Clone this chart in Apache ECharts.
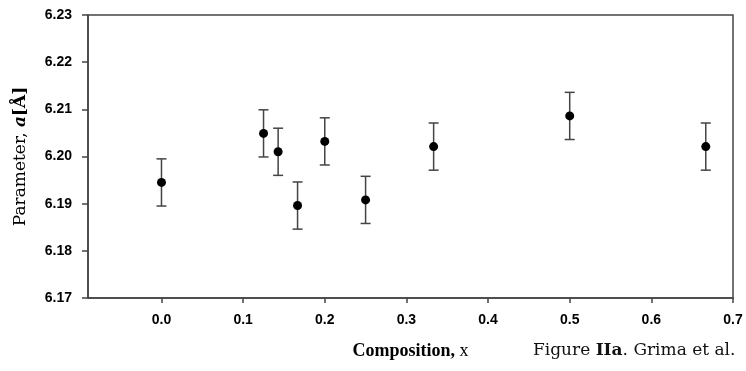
<!DOCTYPE html>
<html>
<head>
<meta charset="utf-8">
<script src="https://cdn.jsdelivr.net/npm/echarts@6/dist/echarts.min.js"></script>
<style>
  html, body { margin: 0; padding: 0; background: #fff; }
  #chart { width: 746px; height: 371px; }
</style>
</head>
<body>
<div id="chart"></div>
<script>
// composition x, lattice parameter a (Å), error bar half-width
var composition = [0.0, 0.125, 1 / 7, 1 / 6, 0.2, 0.25, 1 / 3, 0.5, 2 / 3];
var parameterA = [6.1945, 6.2049, 6.2010, 6.1896, 6.2032, 6.1908, 6.2021, 6.2086, 6.2021];
var errorA = [0.005, 0.005, 0.005, 0.005, 0.005, 0.005, 0.005, 0.005, 0.005];
var xTicks = [0.0, 0.1, 0.2, 0.3, 0.4, 0.5, 0.6, 0.7];

var points = composition.map(function (x, i) { return [x, parameterA[i]]; });
var bars = composition.map(function (x, i) {
  return [x, parameterA[i] - errorA[i], parameterA[i] + errorA[i]];
});

var chart = echarts.init(document.getElementById('chart'));
var axisColor = '#444';
var labelFont = {
  color: '#000',
  fontFamily: 'Liberation Sans',
  fontWeight: 'bold',
  fontSize: 14
};

chart.setOption({
  animation: false,
  backgroundColor: '#fff',
  grid: {
    left: 88,
    right: 13,
    top: 15,
    bottom: 73,
    show: true,
    borderColor: axisColor,
    borderWidth: 1.5
  },
  title: {
    text: '{n|Figure }{b|IIa}{n|. Grima et al.}',
    left: 533,
    top: 342,
    padding: 0,
    textStyle: {
      rich: {
        n: { fontFamily: 'DejaVu Serif', fontWeight: 'normal', fontSize: 17, color: '#111' },
        b: { fontFamily: 'DejaVu Serif', fontWeight: 'bold', fontSize: 17, color: '#111' }
      }
    }
  },
  xAxis: {
    type: 'value',
    min: -0.09,
    max: 0.7,
    name: '{b|Composition, }{n|x}',
    nameLocation: 'middle',
    nameGap: 44,
    nameMoveOverlap: false,
    nameTextStyle: {
      rich: {
        b: { fontFamily: 'Liberation Serif', fontWeight: 'bold', fontSize: 18, color: '#000' },
        n: { fontFamily: 'Liberation Serif', fontWeight: 'normal', fontSize: 18, color: '#000' }
      }
    },
    splitLine: { show: false },
    axisLine: { show: true, onZero: false, lineStyle: { color: axisColor, width: 1.5 } },
    axisTick: {
      show: true,
      length: 5,
      customValues: xTicks,
      lineStyle: { color: axisColor, width: 1.5 }
    },
    axisLabel: Object.assign({
      margin: 15,
      customValues: xTicks,
      formatter: function (v) { return v.toFixed(1); }
    }, labelFont)
  },
  yAxis: {
    type: 'value',
    min: 6.17,
    max: 6.23,
    interval: 0.01,
    name: '{n|Parameter, }{i|a}{b|[Å]}',
    nameLocation: 'middle',
    nameGap: 59,
    nameMoveOverlap: false,
    nameTextStyle: {
      rich: {
        n: { fontFamily: 'DejaVu Serif', fontWeight: 'normal', fontSize: 17, color: '#000' },
        i: { fontFamily: 'DejaVu Serif', fontWeight: 'bold', fontStyle: 'italic', fontSize: 17, color: '#000' },
        b: { fontFamily: 'DejaVu Serif', fontWeight: 'bold', fontSize: 17, color: '#000' }
      }
    },
    splitLine: { show: false },
    axisLine: { show: true, onZero: false, lineStyle: { color: axisColor, width: 1.5 } },
    axisTick: { show: true, length: 6, lineStyle: { color: axisColor, width: 1.5 } },
    axisLabel: Object.assign({
      margin: 16,
      formatter: function (v) { return v.toFixed(2); }
    }, labelFont)
  },
  series: [
    {
      type: 'custom',
      data: bars,
      z: 2,
      renderItem: function (params, api) {
        var x = api.value(0);
        var lo = api.coord([x, api.value(1)]);
        var hi = api.coord([x, api.value(2)]);
        var cap = 5;
        var style = { stroke: axisColor, lineWidth: 1.5 };
        return {
          type: 'group',
          children: [
            { type: 'line', shape: { x1: lo[0], y1: lo[1], x2: hi[0], y2: hi[1] }, style: style },
            { type: 'line', shape: { x1: lo[0] - cap, y1: lo[1], x2: lo[0] + cap, y2: lo[1] }, style: style },
            { type: 'line', shape: { x1: hi[0] - cap, y1: hi[1], x2: hi[0] + cap, y2: hi[1] }, style: style }
          ]
        };
      }
    },
    {
      type: 'scatter',
      data: points,
      z: 3,
      symbol: 'circle',
      symbolSize: 9,
      itemStyle: { color: '#000', opacity: 1 }
    }
  ]
});
</script>
</body>
</html>
